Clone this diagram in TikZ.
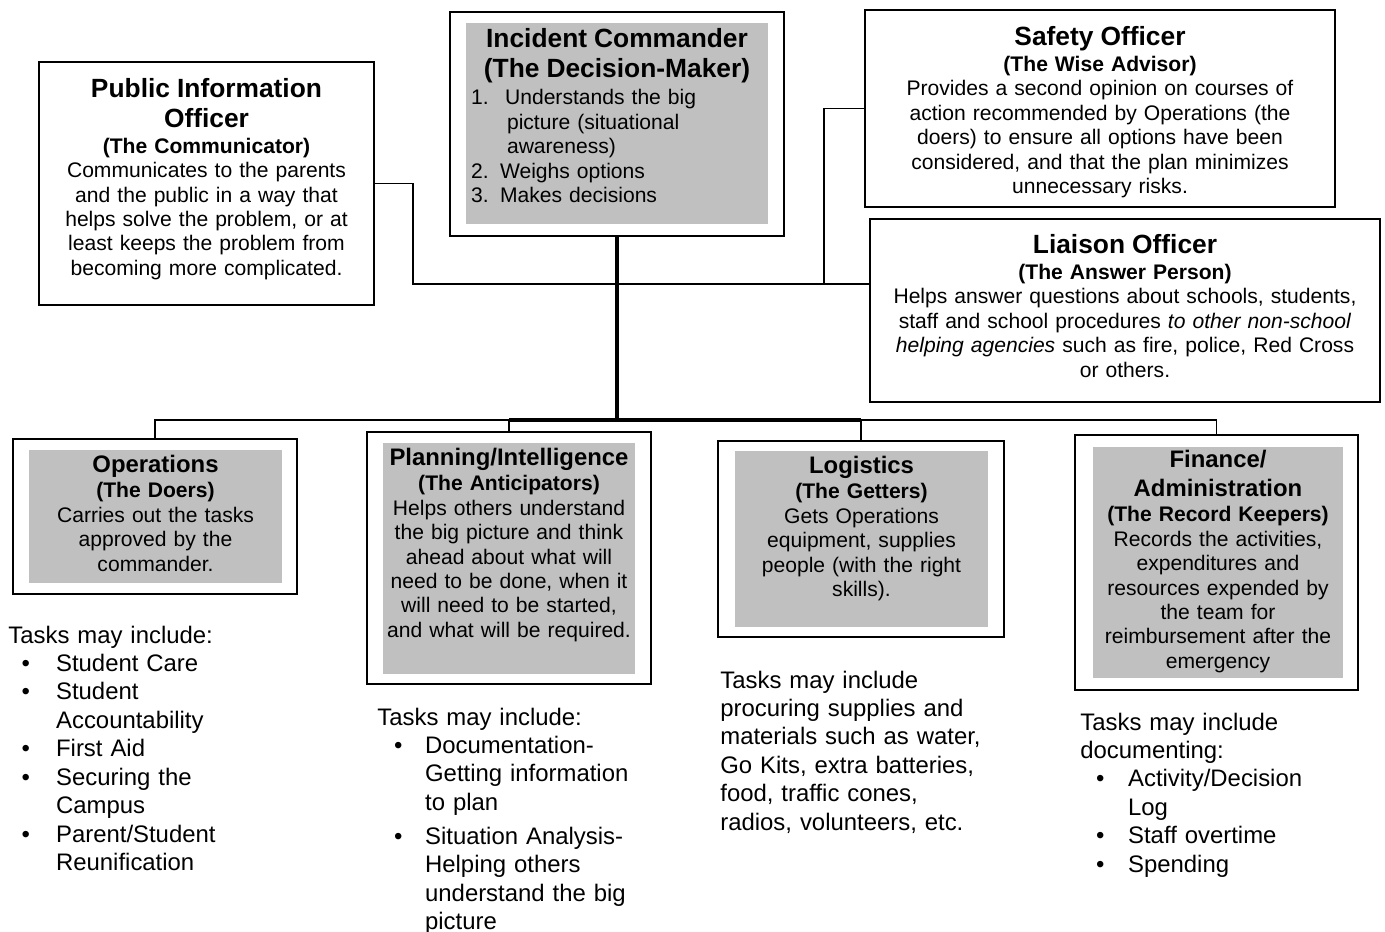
\documentclass[tikz,border=0pt]{standalone}
\usepackage{fontspec}
\setmainfont{Liberation Sans}
\usepackage{tikz}

\definecolor{panelgray}{HTML}{C0C0C0}

\newcommand{\ttlfont}{\fontsize{15}{17}\selectfont\bfseries}
\newcommand{\subtfont}{\fontsize{12}{14.5}\selectfont\bfseries}
\newcommand{\bodyfont}{\fontsize{12}{13.9}\selectfont}
\newcommand{\secfont}{\fontsize{13.6}{16.5}\selectfont\bfseries}
\newcommand{\taskfont}{\fontsize{13.6}{16.2}\selectfont}
\newcommand{\taskitem}[2]{\hspace*{#1}\makebox[\dimexpr27.2pt-#1\relax][l]{\textbullet}#2}
\newcommand{\taskcont}{\hspace*{27.2pt}}

\begin{document}
\begin{tikzpicture}[x=0.02cm, y=-0.02cm,
		frame/.style={draw, line width=1pt, inner sep=0pt},
		role/.style={frame, anchor=north, align=center, font=\bodyfont},
		panel/.style={fill=panelgray, anchor=north, inner sep=0pt, align=center, font=\bodyfont},
		link/.style={line width=0.9pt},
		stem/.style={line width=1.8pt},
		tasks/.style={anchor=base west, inner sep=0pt, text width=6cm, align=left, font=\taskfont}]
	\useasboundingbox (0,0) rectangle (1385,932);

	% command staff
	\node[role, minimum width=6.70cm, text width=6.4cm, text height=0.72cm, text depth=4.14cm] (pio) at (206.5,61)
		{{\ttlfont Public Information\\Officer\par}{\subtfont (The Communicator)\par}
		Communicates to the parents\\and the public in a way that\\helps solve the problem, or at\\least keeps the problem from\\becoming more complicated.};

	\node[frame, minimum width=6.68cm, minimum height=4.48cm] (icbox) at (617,124) {};
	\node[panel, align=left, text width=5.84cm, inner xsep=0.1cm, text height=0.48cm, text depth=3.54cm] (ic) at (617,23)
		{{\centering\ttlfont Incident Commander\\(The Decision-Maker)\par}\vspace{1.5pt}\fontsize{12}{14}\selectfont
		\makebox[19.4pt][l]{1.}Understands the big\\
		\hspace*{20.5pt}picture (situational\\
		\hspace*{20.5pt}awareness)\\
		\makebox[16.5pt][l]{2.}Weighs options\\
		\makebox[16.5pt][l]{3.}Makes decisions};

	\node[role, minimum width=9.40cm, text width=9cm, text height=0.72cm, text depth=3.22cm] (so) at (1100,9)
		{{\ttlfont Safety Officer\par}{\subtfont (The Wise Advisor)\par}
		Provides a second opinion on courses of\\action recommended by Operations (the\\doers) to ensure all options have been\\considered, and that the plan minimizes\\unnecessary risks.};

	\node[role, minimum width=10.20cm, text width=9.9cm, text height=0.70cm, text depth=2.96cm] (lo) at (1125,218)
		{{\ttlfont Liaison Officer\par}{\subtfont (The Answer Person)\par}
		Helps answer questions about schools, students,\\staff and school procedures \textit{to other non-school}\\\textit{helping agencies} such as fire, police, Red Cross\\or others.};

	% general staff
	\node[frame, minimum width=5.68cm, minimum height=3.10cm] (opsbox) at (155,516.5) {};
	\node[panel, text width=5.06cm, text height=0.44cm, text depth=2.22cm] (ops) at (155.5,450)
		{{\secfont Operations\par}{\subtfont (The Doers)\par}
		Carries out the tasks\\approved by the\\commander.};

	\node[frame, minimum width=5.68cm, minimum height=5.04cm] (planbox) at (509,558) {};
	\node[panel, text width=5.04cm, text height=0.44cm, text depth=4.18cm] (plan) at (509,443)
		{{\secfont Planning/Intelligence\par}{\subtfont (The Anticipators)\par}
		Helps others understand\\the big picture and think\\ahead about what will\\need to be done, when it\\will need to be started,\\and what will be required.};

	\node[frame, minimum width=5.72cm, minimum height=3.92cm] (logbox) at (861,539) {};
	\node[panel, text width=5.06cm, text height=0.44cm, text depth=3.08cm] (log) at (861.5,451)
		{{\secfont Logistics\par}{\subtfont (The Getters)\par}
		Gets Operations\\equipment, supplies\\people (with the right\\skills).};

	\node[frame, minimum width=5.66cm, minimum height=5.10cm] (finbox) at (1216.5,562.5) {};
	\node[panel, text width=5.0cm, text height=0.40cm, text depth=4.22cm] (fin) at (1218,447)
		{{\secfont Finance/\\Administration\par}{\subtfont (The Record Keepers)\par}
		Records the activities,\\expenditures and\\resources expended by\\the team for\\reimbursement after the\\emergency};

	% connectors
	\coordinate (hub) at (617,284);
	\coordinate (bus) at (617,420);
	\draw[stem] (icbox.south) -- (icbox.south |- bus);
	\draw[link] (pio.east) -- ++(38,0) |- (lo.west |- hub);
	\draw[link] (so.west) -- ++(-40,0) |- (hub);
	\draw[link] (opsbox.north) -- (opsbox.north |- bus) -- (finbox.north |- bus) -- (finbox.north);
	\draw[link] (planbox.north) -- (planbox.north |- bus);
	\draw[link] (logbox.north) -- (logbox.north |- bus);
	\draw[stem] (planbox.north |- bus) -- (logbox.north |- bus);

	% task lists
	\node[tasks] (opstasks) at (8,643)
		{Tasks may include:\\
		\taskitem{7.5pt}{Student Care}\\
		\taskitem{7.5pt}{Student}\\
		\taskcont Accountability\\
		\taskitem{7.5pt}{First Aid}\\
		\taskitem{7.5pt}{Securing the}\\
		\taskcont Campus\\
		\taskitem{7.5pt}{Parent/Student}\\
		\taskcont Reunification};

	\node[tasks] (plantasks) at (377,725)
		{Tasks may include:\\
		\taskitem{9.6pt}{Documentation-}\\
		\taskcont Getting information\\
		\taskcont to plan\\[3pt]
		\taskitem{9.6pt}{Situation Analysis-}\\
		\taskcont Helping others\\
		\taskcont understand the big\\
		\taskcont picture};

	\node[tasks] (logtasks) at (720,688)
		{Tasks may include\\procuring supplies and\\materials such as water,\\Go Kits, extra batteries,\\food, traffic cones,\\radios, volunteers, etc.};

	\node[tasks] (fintasks) at (1080,730)
		{Tasks may include\\documenting:\\
		\taskitem{9pt}{Activity/Decision}\\
		\taskcont Log\\
		\taskitem{9pt}{Staff overtime}\\
		\taskitem{9pt}{Spending}};
\end{tikzpicture}
\end{document}
